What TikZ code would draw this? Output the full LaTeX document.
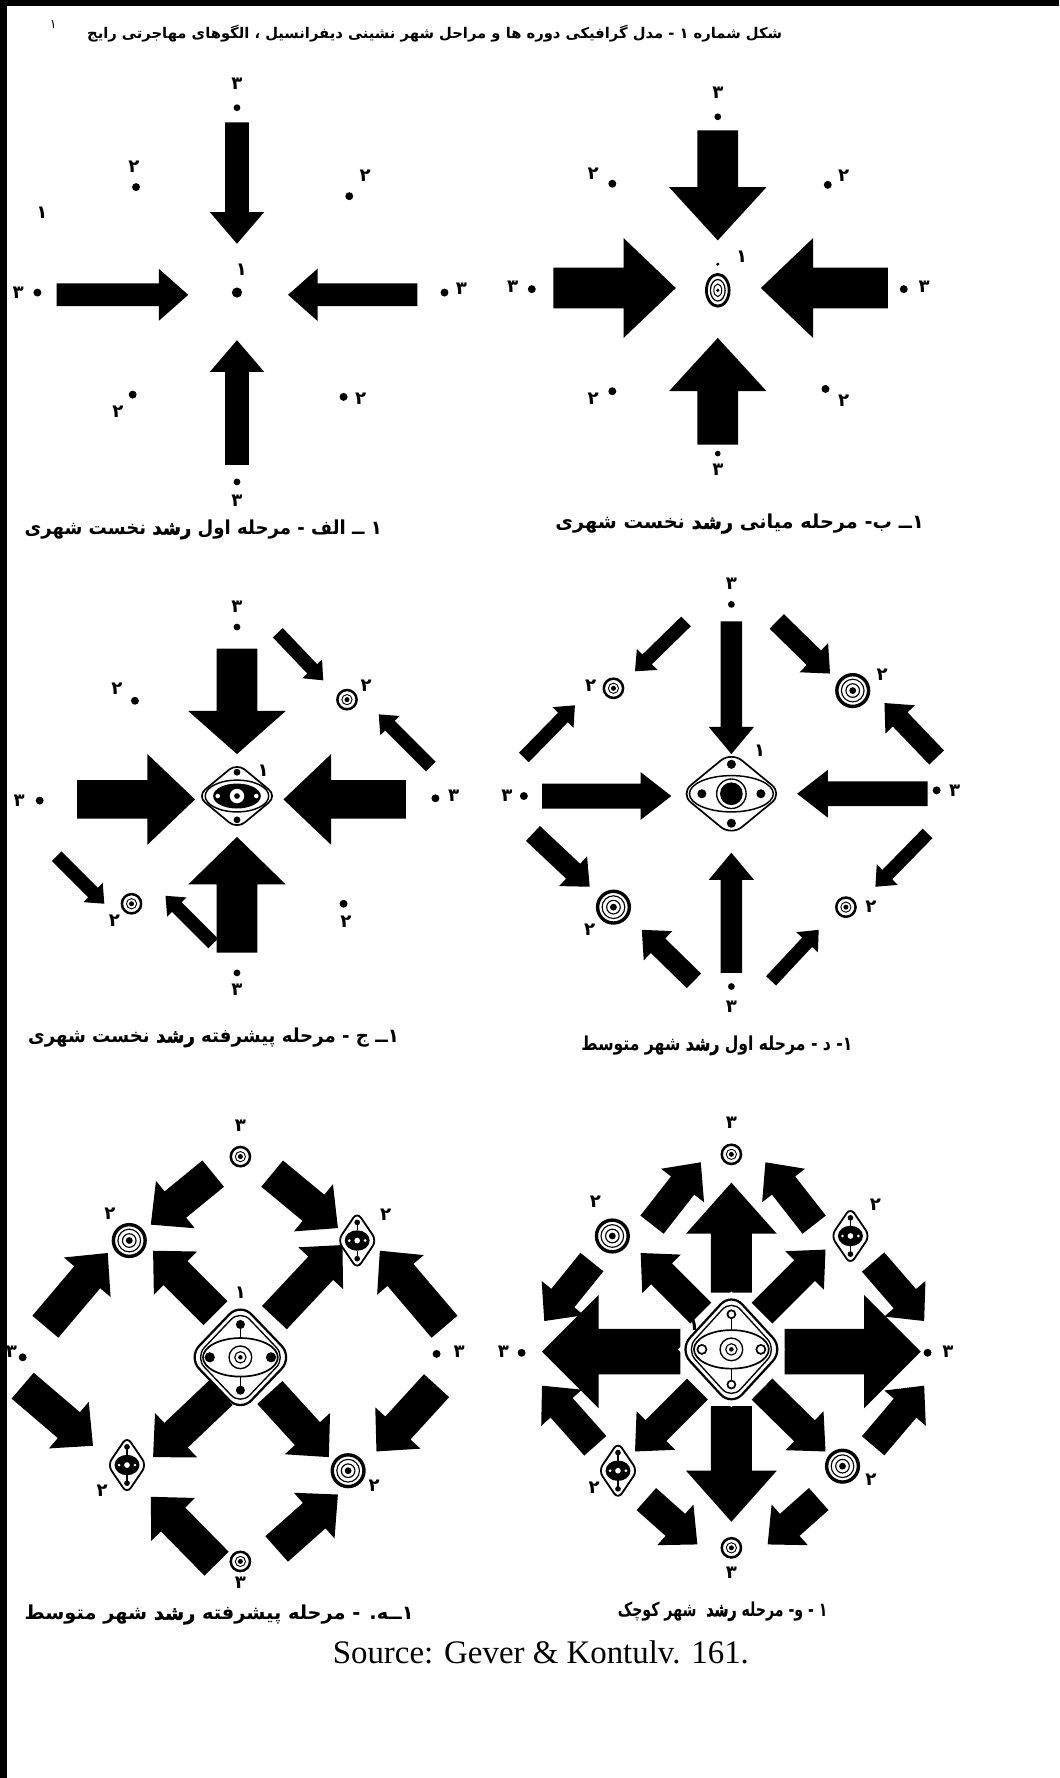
\documentclass[tikz,border=0pt]{standalone}
\usepackage{fontspec}
\usepackage{graphicx}
\setmainfont{Liberation Serif}
\newfontfamily\fa[Script=Arabic]{DejaVu Sans}
\newfontfamily\faheavy[Script=Arabic,FakeBold=2]{DejaVu Sans Bold}
\TeXXeTstate=1
\newcommand\barr[7]{%
 \pgfmathsetmacro\bdx{#3-#1}\pgfmathsetmacro\bdy{#4-#2}%
 \pgfmathsetmacro\bL{veclen(\bdx,\bdy)}%
 \pgfmathsetmacro\bux{\bdx/\bL}\pgfmathsetmacro\buy{\bdy/\bL}%
 \pgfmathsetmacro\bbx{#3-#7*\bux}\pgfmathsetmacro\bby{#4-#7*\buy}%
 \fill ({#1+#5*\buy},{#2-#5*\bux}) -- ({\bbx+#5*\buy},{\bby-#5*\bux}) -- ({\bbx+#6*\buy},{\bby-#6*\bux}) -- (#3,#4) -- ({\bbx-#6*\buy},{\bby+#6*\bux}) -- ({\bbx-#5*\buy},{\bby+#5*\bux}) -- ({#1-#5*\buy},{#2+#5*\bux}) -- cycle;}
\newcommand\Rh[4]{\draw[line width=#3pt, rounded corners=#4pt] (#1/2,-#2/2) -- (#1,0) -- (0,#2) -- (-#1,0) -- (0,-#2) -- cycle;}
\tikzset{
 dg/.style={font=\fa\bfseries\fontsize{16}{16}\selectfont, inner sep=0pt},
 capt/.style={font=\fa\bfseries\fontsize{17}{19}\selectfont, inner sep=0pt, anchor=east},
 ringA/.pic={\draw[line width=2.2pt] (0,0) circle (8.5); \draw[line width=0.8pt] (0,0) circle (4.5); \fill (0,0) circle (2.2);},
 ringB/.pic={\draw[line width=3pt] (0,0) circle (14); \draw[line width=1pt] (0,0) circle (10); \draw[line width=1pt] (0,0) circle (6); \fill (0,0) circle (3);},
 cityC/.pic={\Rh{17}{25}{1.6}{6} \fill (0,0) ellipse (11 and 9); \fill[white] (0,0) circle (2.5); \fill[white] (-7,0) circle (1.3); \fill[white] (7,0) circle (1.3); \fill (0,-16) circle (2.5); \fill (0,16) circle (2.5); \draw[line width=1pt] (0,-16) -- (0,-9) (0,16) -- (0,9);},
}
\begin{document}
\begin{tikzpicture}[x=1pt,y=-1pt]
\useasboundingbox (0,0) rectangle (934,1568);
\fill[white] (0,0) rectangle (934,1568);
\fill (0,0) rectangle (6,1568);
\fill (0,0) rectangle (934,5);
% title
\node[font=\fa\bfseries\fontsize{13}{15}\selectfont, inner sep=0pt, anchor=east] (title) at (690,30) {\beginR شکل شماره ۱ - مدل گرافیکی دوره ها و مراحل شهر نشینی دیفرانسیل ، الگوهای مهاجرتی رایج\endR};
\node[dg, font=\fa\fontsize{11}{11}\selectfont] (m1) at (47,22) {۱};

% ===== panel a =====
\barr{209}{108}{209}{215}{10.5}{24}{28}
\barr{50}{260}{166}{260}{10}{23}{26}
\barr{368}{260}{254}{260}{10}{23}{26}
\barr{209}{410}{209}{300}{10.5}{24}{28}
\fill (209,258) circle (4.5);
\node[dg] (a1) at (213,238) {۱};
\node[dg] (a3t) at (209,74) {۳}; \fill (209,95) circle (3);
\node[dg] (a3l) at (16,258) {۳}; \fill (33,258) circle (3.5);
\fill (392,258) circle (3.5); \node[dg] (a3r) at (407,255) {۳};
\fill (209,425) circle (3); \node[dg] (a3b) at (209,442) {۳};
\node[dg] (a2tl) at (118,147) {۲}; \fill (120,165) circle (3.5);
\fill (308,173) circle (3.5); \node[dg] (a2tr) at (322,155) {۲};
\fill (117,348) circle (3.5); \node[dg] (a2bl) at (104,363) {۲};
\fill (303,350) circle (3.5); \node[dg] (a2br) at (318,352) {۲};
\node[dg] (aone) at (37,188) {۱};
\node[capt] (capa) at (337,467) {\resizebox{315pt}{\height}{\beginR ۱ ــ الف - مرحله اول {\faheavy رشد} نخست شهری\endR}};

% ===== panel b =====
\barr{633}{115}{633}{212}{18}{43}{47}
\barr{488}{254}{596}{254}{18}{44}{46}
\barr{783}{254}{671}{254}{18}{44}{46}
\barr{633}{392}{633}{298}{18}{43}{47}
\draw[line width=2.5pt] (633,256) ellipse (10 and 14);
\draw[line width=1.1pt] (633,256) ellipse (6.5 and 9.5);
\draw[line width=0.9pt] (633,256) ellipse (3.5 and 5.5);
\fill (633,256) circle (1.6);
\node[dg] (b1) at (654,226) {۱}; \fill (633,233) circle (1.5);
\node[dg] (b3t) at (633,82) {۳}; \fill (633,103) circle (3);
\node[dg] (b3l) at (452,253) {۳}; \fill (469,255) circle (3.5);
\fill (797,255) circle (3.5); \node[dg] (b3r) at (815,253) {۳};
\fill (633,400) circle (2.5); \node[dg] (b3b) at (633,414) {۳};
\node[dg] (b2tl) at (523,153) {۲}; \fill (540,162) circle (3.5);
\fill (730,163) circle (3.5); \node[dg] (b2tr) at (744,155) {۲};
\node[dg] (b2bl) at (523,352) {۲}; \fill (540,345) circle (3.5);
\fill (728,343) circle (3.5); \node[dg] (b2br) at (744,353) {۲};
\node[capt] (capb) at (815,462) {\resizebox{325pt}{\height}{\beginR ۱ــ ب- مرحله میانی {\faheavy رشد} نخست شهری\endR}};

% ===== panel c =====
\barr{209}{572}{209}{665}{18}{43}{38}
\barr{68}{705}{172}{705}{17}{40}{42}
\barr{358}{705}{250}{705}{17}{40}{42}
\barr{209}{840}{209}{738}{18}{43}{42}
\barr{245}{558}{285}{600}{6}{12}{14}
\barr{380}{676}{334}{630}{6}{12}{14}
\barr{50}{755}{92}{797}{6}{12}{14}
\barr{188}{832}{146}{790}{6}{12}{14}
\begin{scope}[shift={(209,702)}]
 \Rh{35}{29}{1.5}{9}
 \draw[line width=1.3pt] (0,0) ellipse (28 and 14);
 \fill (0,0) ellipse (21 and 11);
 \fill[white] (0,0) circle (7); \draw[line width=1pt] (0,0) circle (7); \fill (0,0) circle (2.5);
 \fill[white] (-17,0) circle (2); \fill[white] (17,0) circle (2);
 \fill (0,-21) circle (3); \fill (0,21) circle (3);
\end{scope}
\node[dg] (c1) at (232,680) {۱};
\node[dg] (c3t) at (209,535) {۳}; \fill (209,553) circle (3);
\node[dg] (c3l) at (17,706) {۳}; \fill (35,706) circle (3.5);
\fill (384,704) circle (3.5); \node[dg] (c3r) at (400,702) {۳};
\fill (209,858) circle (3); \node[dg] (c3b) at (209,873) {۳};
\node[dg] (c2tl) at (103,607) {۲}; \fill (119,618) circle (3.5);
\pic at (306,617) {ringA}; \node[dg] (c2tr) at (323,605) {۲};
\pic at (116,797) {ringA}; \node[dg] (c2bl) at (101,812) {۲};
\fill (303,797) circle (3.5); \node[dg] (c2br) at (305,813) {۲};
\node[capt] (capc) at (352,915) {\resizebox{327pt}{\height}{\beginR ۱ــ ج - مرحله پیشرفته {\faheavy رشد} نخست شهری\endR}};

% ===== panel d =====
\barr{645}{548}{645}{665}{9.5}{20}{24}
\barr{478}{702}{592}{702}{11}{21}{27}
\barr{818}{700}{703}{700}{11}{21}{27}
\barr{645}{858}{645}{752}{9.5}{20}{24}
\barr{605}{548}{560}{592}{6}{13}{15}
\barr{685}{548}{732}{594}{9}{18}{20}
\barr{462}{668}{507}{622}{6}{13}{15}
\barr{826}{668}{780}{620}{9}{18}{20}
\barr{470}{735}{520}{782}{9}{18}{20}
\barr{818}{735}{772}{782}{6}{13}{15}
\barr{612}{865}{566}{820}{9}{18}{20}
\barr{680}{865}{722}{820}{6}{13}{15}
\begin{scope}[shift={(645,700)}]
 \Rh{45}{37}{1.5}{12}
 \draw[line width=1.3pt] (0,0) ellipse (37 and 16);
 \draw[line width=1.2pt] (0,0) circle (13);
 \fill (0,0) circle (10);
 \fill (0,-26) circle (4); \fill (0,26) circle (4);
 \fill (-26,0) circle (4); \fill (26,0) circle (4);
\end{scope}
\node[dg] (d1) at (670,662) {۱};
\node[dg] (d3t) at (645,515) {۳}; \fill (645,533) circle (3);
\node[dg] (d3l) at (447,702) {۳}; \fill (462,702) circle (3.5);
\fill (826,697) circle (3.5); \node[dg] (d3r) at (842,697) {۳};
\fill (645,870) circle (3); \node[dg] (d3b) at (645,888) {۳};
\pic at (541,607) {ringA}; \node[dg] (d2tl) at (521,605) {۲};
\pic at (752,609) {ringB}; \node[dg] (d2tr) at (778,595) {۲};
\pic at (541,800) {ringB}; \node[dg] (d2bl) at (520,820) {۲};
\pic at (746,800) {ringA}; \node[dg] (d2br) at (768,800) {۲};
\node[capt] (capd) at (752,922) {\resizebox{239pt}{\height}{\beginR ۱- د - مرحله اول {\faheavy رشد} شهر متوسط\endR}};

% ===== panel e =====
\barr{188}{1035}{133}{1080}{15}{27}{28}
\barr{240}{1035}{298}{1083}{15}{27}{28}
\barr{40}{1170}{95}{1105}{15}{27}{28}
\barr{190}{1158}{135}{1103}{15}{27}{28}
\barr{242}{1162}{302}{1098}{15}{27}{28}
\barr{392}{1170}{335}{1103}{15}{27}{28}
\barr{20}{1222}{82}{1275}{15}{27}{28}
\barr{195}{1228}{135}{1285}{15}{27}{28}
\barr{238}{1228}{290}{1285}{15}{27}{28}
\barr{385}{1222}{332}{1280}{15}{27}{28}
\barr{191}{1379}{133}{1320}{15}{27}{28}
\barr{244}{1366}{298}{1318}{15}{27}{28}
\begin{scope}[shift={(212,1197)}]
 \fill[white] (0,-49) -- (47,0) -- (0,49) -- (-47,0) -- cycle;
 \Rh{46}{48}{2}{14}
 \Rh{40}{42}{1.2}{12}
 \draw[line width=1.5pt] (0,0) ellipse (33 and 17);
 \draw[line width=1.2pt] (0,0) circle (10); \draw[line width=1pt] (0,0) circle (5); \fill (0,0) circle (2);
 \fill (0,-29) circle (4); \fill (0,29) circle (4);
 \draw[line width=1.5pt] (0,-29) -- (0,-17) (0,29) -- (0,17);
 \fill (-27,0) circle (4.5); \fill (27,0) circle (4.5);
\end{scope}
\node[dg] (e1) at (212,1140) {۱};
\pic at (212,1020) {ringA}; \node[dg] (e3t) at (212,993) {۳};
\node[dg] (e3l) at (10,1192) {۳}; \fill (20,1197) circle (3.5);
\fill (385,1194) circle (3.5); \node[dg] (e3r) at (405,1192) {۳};
\pic at (212,1377) {ringA}; \node[dg] (e3b) at (212,1396) {۳};
\pic at (114,1094) {ringB}; \node[dg] (e2tl) at (97,1070) {۲};
\pic at (315,1094) {cityC}; \node[dg] (e2tr) at (340,1071) {۲};
\pic at (112,1292) {cityC}; \node[dg] (e2bl) at (90,1315) {۲};
\pic at (307,1297) {ringB}; \node[dg] (e2br) at (330,1310) {۲};
\node[capt] (cape) at (365,1424) {\resizebox{343pt}{\height}{\beginR ۱ــه. - مرحله پیشرفته {\faheavy رشد} شهر متوسط\endR}};

% ===== panel f =====
\barr{645}{1140}{645}{1043}{18}{40}{45}
\barr{645}{1240}{645}{1342}{18}{40}{45}
\barr{600}{1192}{478}{1192}{20}{50}{50}
\barr{692}{1192}{812}{1192}{20}{50}{50}
\barr{575}{1080}{618}{1025}{13}{24}{26}
\barr{718}{1080}{675}{1025}{13}{24}{26}
\barr{522}{1113}{480}{1165}{13}{24}{26}
\barr{618}{1158}{565}{1105}{13}{24}{26}
\barr{672}{1158}{728}{1102}{13}{24}{26}
\barr{770}{1113}{815}{1165}{13}{24}{26}
\barr{525}{1275}{478}{1222}{13}{24}{26}
\barr{615}{1225}{560}{1280}{13}{24}{26}
\barr{672}{1225}{728}{1280}{13}{24}{26}
\barr{770}{1275}{815}{1222}{13}{24}{26}
\barr{570}{1322}{615}{1362}{13}{24}{26}
\barr{722}{1322}{677}{1362}{13}{24}{26}
\begin{scope}[shift={(645,1190)}]
 \fill[white] (0,-51) -- (47,0) -- (0,51) -- (-47,0) -- cycle;
 \Rh{46}{50}{2}{14}
 \Rh{40}{44}{1.2}{12}
 \draw[line width=1.5pt] (0,0) ellipse (33 and 17);
 \draw[line width=1.2pt] (0,0) circle (10); \draw[line width=1pt] (0,0) circle (5); \fill (0,0) circle (2);
 \draw[line width=1.5pt] (0,-31) circle (3.5) (0,31) circle (3.5);
 \draw[line width=1.5pt] (0,-27.5) -- (0,-17) (0,27.5) -- (0,17);
 \draw[line width=1.5pt] (-26,0) circle (4) (26,0) circle (4);
\end{scope}
\node[dg] (f1) at (612,1168) {۱};
\pic at (645,1018) {ringA}; \node[dg] (f3t) at (645,990) {۳};
\pic at (645,1365) {ringA}; \node[dg] (f3b) at (645,1387) {۳};
\node[dg] (f3l) at (444,1192) {۳}; \fill (460,1193) circle (3.5);
\fill (818,1193) circle (3.5); \node[dg] (f3r) at (836,1192) {۳};
\pic at (540,1090) {ringB}; \node[dg] (f2tl) at (525,1060) {۲};
\pic at (750,1090) {cityC}; \node[dg] (f2tr) at (772,1062) {۲};
\pic at (545,1297) {cityC}; \node[dg] (f2bl) at (524,1312) {۲};
\pic at (743,1293) {ringB}; \node[dg] (f2br) at (768,1305) {۲};
\node[capt] (capf) at (730,1421) {\resizebox{185pt}{\height}{\beginR ۱ - و- مرحله {\faheavy رشد}\ \ شهر کوچک\endR}};

\node[font=\fontsize{29}{32}\selectfont, inner sep=0pt] (src) at (477,1457) {Source: Gever \& Kontulv. 161.};
\end{tikzpicture}
\end{document}
